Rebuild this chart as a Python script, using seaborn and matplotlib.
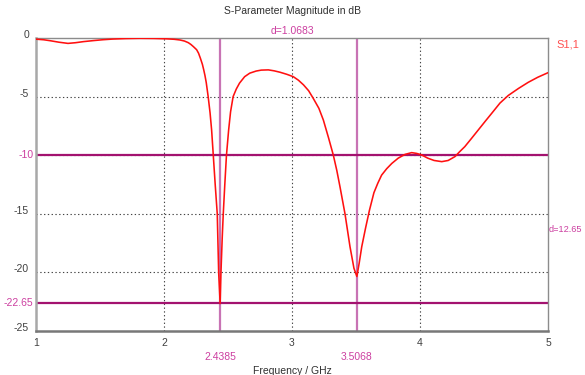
import matplotlib
matplotlib.use("Agg")
import matplotlib.pyplot as plt
import matplotlib.transforms as mtransforms
import seaborn as sns
import pandas as pd

# S1,1 magnitude trace (GHz, dB)
freq_ghz = [1.00, 1.06, 1.11, 1.18, 1.25, 1.31, 1.37, 1.45, 1.52, 1.60, 1.70, 1.81,
            1.92, 2.02, 2.08, 2.125, 2.16, 2.19, 2.21, 2.23, 2.255, 2.27, 2.285, 2.30,
            2.31, 2.32, 2.33, 2.345, 2.36, 2.372, 2.385, 2.40, 2.416, 2.427, 2.4385,
            2.445, 2.455, 2.463, 2.475, 2.488, 2.505, 2.52, 2.54, 2.565, 2.59, 2.63,
            2.67, 2.72, 2.76, 2.815, 2.86, 2.906, 2.96, 3.01, 3.05, 3.09, 3.13, 3.166,
            3.21, 3.245, 3.285, 3.323, 3.35, 3.375, 3.414, 3.453, 3.484, 3.5068, 3.525,
            3.545, 3.575, 3.605, 3.64, 3.67, 3.70, 3.74, 3.78, 3.83, 3.883, 3.935,
            3.975, 4.013, 4.06, 4.11, 4.17, 4.22, 4.273, 4.31, 4.35, 4.40, 4.455,
            4.51, 4.56, 4.625, 4.69, 4.77, 4.846, 4.92, 5.00]
s11_db = [-0.10, -0.15, -0.23, -0.36, -0.46, -0.40, -0.31, -0.22, -0.15, -0.09, -0.05, -0.03,
          -0.04, -0.07, -0.11, -0.17, -0.26, -0.40, -0.55, -0.74, -1.0, -1.3, -1.75, -2.25,
          -2.7, -3.2, -3.8, -5.0, -6.4, -7.85, -10.0, -12.5, -15.0, -20.0, -22.65,
          -20.0, -17.0, -15.0, -12.5, -10.0, -7.85, -6.3, -5.0, -4.35, -3.85, -3.3,
          -3.0, -2.82, -2.74, -2.72, -2.80, -2.92, -3.10, -3.3, -3.6, -4.0, -4.5, -5.15,
          -6.0, -7.0, -8.5, -10.0, -11.3, -12.7, -15.0, -17.8, -19.65, -20.35, -19.2,
          -17.8, -16.2, -14.7, -13.2, -12.4, -11.7, -11.15, -10.7, -10.25, -9.93, -9.78,
          -9.85, -9.98, -10.25, -10.45, -10.55, -10.45, -10.12, -9.7, -9.27, -8.6, -7.85,
          -7.1, -6.43, -5.55, -4.9, -4.3, -3.78, -3.35, -2.96]

x_ticks = [1, 2, 3, 4, 5]
y_ticks = [0, -5, -10, -15, -20, -25]

# marker positions
marker_freqs = [2.4385, 3.5068]
marker_levels = [-10, -22.65]

df = pd.DataFrame({"freq": freq_ghz, "s11": s11_db})

sns.set_style("white")
plt.rcParams["font.family"] = ["Liberation Sans", "DejaVu Sans"]

fig = plt.figure(figsize=(5.85, 3.75), dpi=100)
ax = fig.add_axes([36 / 585, 1 - 331 / 375, 512 / 585, 293 / 375])

grid_kw = dict(color="#444444", lw=0.8, ls=(0, (1.2, 2.2)), zorder=1)
for xv in x_ticks[1:-1]:
    ax.axvline(xv, **grid_kw)
for yv in y_ticks[1:-1]:
    ax.axhline(yv, **grid_kw)

vcol = "#c873b4"
hcol = "#a3126f"
lab_col = "#cc3fa0"
for mf in marker_freqs:
    ax.axvline(mf, color=vcol, lw=1.6, zorder=2)
for ml in marker_levels:
    ax.axhline(ml, color=hcol, lw=1.6, zorder=2)

sns.lineplot(data=df, x="freq", y="s11", ax=ax, color="#ff1010", lw=1.15,
             zorder=3, legend=False)

ax.set_xlim(1, 5)
ax.set_ylim(-25, 0)
ax.set_xticks(x_ticks)
ax.set_xticklabels([str(t) for t in x_ticks])
ax.set_yticks(y_ticks)
# the -10 level carries its own marker label
ax.set_yticklabels(["" if t == marker_levels[0] else str(t) for t in y_ticks])
ax.tick_params(axis="both", labelsize=7.5, colors="#888888", labelcolor="#404040",
               length=3, width=0.8, pad=2)
lift = mtransforms.ScaledTranslation(0, 4 / 100, fig.dpi_scale_trans)
for lab in ax.get_yticklabels():
    lab.set_transform(lab.get_transform() + lift)

for side in ("left", "bottom"):
    ax.spines[side].set_color("#a8a8a8")
    ax.spines[side].set_linewidth(1.8)
ax.spines["bottom"].set_color("#787878")
for side in ("top", "right"):
    ax.spines[side].set_color("#8c8c8c")
    ax.spines[side].set_linewidth(1.0)

ax.set_xlabel("Frequency / GHz", fontsize=7.5, color="#303030", labelpad=13)
ax.set_ylabel("")
ax.set_title("S-Parameter Magnitude in dB", fontsize=7.5, color="#303030", pad=17)

# marker annotations
ax.text(-0.005, -22.65, "-22.65", transform=ax.get_yaxis_transform(),
        ha="right", va="center", fontsize=7.5, color=lab_col)
ax.text(-0.005, -10, "-10", transform=ax.get_yaxis_transform(),
        ha="right", va="center", fontsize=7.5, color=lab_col)
for mf in marker_freqs:
    ax.text(mf, -0.072, f"{mf:.4f}", transform=ax.get_xaxis_transform(),
            ha="center", va="top", fontsize=7.5, color=lab_col)
ax.text(0.5, 1.006, f"d={marker_freqs[1] - marker_freqs[0]:.4f}", transform=ax.transAxes,
        ha="center", va="bottom", fontsize=7.5, color=lab_col)
ax.text(1.001, (marker_levels[0] + marker_levels[1]) / 2,
        f"d={marker_levels[0] - marker_levels[1]:.2f}",
        transform=ax.get_yaxis_transform(), ha="left", va="center",
        fontsize=6.6, color=lab_col)
ax.text(1.017, 0.995, "S1,1", transform=ax.transAxes, ha="left", va="top",
        fontsize=8, color="#ff5050")

fig.savefig("out.png", dpi=100)
